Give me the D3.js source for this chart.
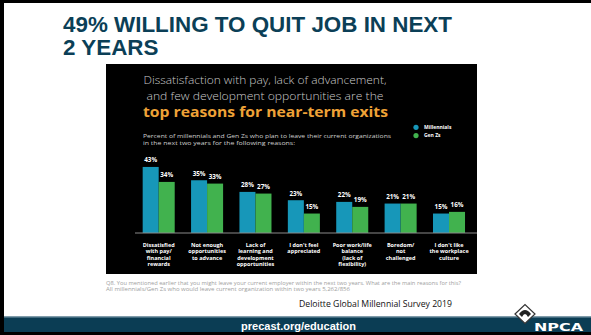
<!DOCTYPE html>
<html>
<head>
<meta charset="utf-8">
<script src="https://cdn.jsdelivr.net/npm/d3@7/dist/d3.min.js"></script>
<style>
  html, body { margin: 0; padding: 0; background: #fff; }
  svg { display: block; }
</style>
</head>
<body>
<script>
// Reasons for leaving, two generations
const categories = [
  ["Dissatisfied", "with pay/", "financial", "rewards"],
  ["Not enough", "opportunities", "to advance"],
  ["Lack of", "learning and", "development", "opportunities"],
  ["I don't feel", "appreciated"],
  ["Poor work/life", "balance", "(lack of", "flexibility)"],
  ["Boredom/", "not", "challenged"],
  ["I don't like", "the workplace", "culture"]
];
const seriesNames = ["Millennials", "Gen Zs"];
const millennials = [43, 35, 28, 23, 22, 21, 15];
const genZs = [34, 33, 27, 15, 19, 21, 16];
const seriesColors = ["#1797b9", "#41b24e"];

const W = 591, H = 335;
const svg = d3.select("body").append("svg").attr("width", W).attr("height", H);

// slide frame
svg.append("rect").attr("x", 0).attr("y", 0).attr("width", W).attr("height", H).attr("fill", "#fff");
svg.append("rect").attr("x", 0).attr("y", 0).attr("width", W).attr("height", 3).attr("fill", "#000");

// slide title
const title = svg.append("g").attr("font-family", "'Liberation Sans', Arial, sans-serif")
  .attr("font-weight", "bold").attr("font-size", 22.4).attr("fill", "#0b3f57");
title.append("text").attr("x", 63).attr("y", 32).text("49% WILLING TO QUIT JOB IN NEXT");
title.append("text").attr("x", 63).attr("y", 55).text("2 YEARS");

// dark panel
svg.append("rect").attr("x", 106).attr("y", 64).attr("width", 371).attr("height", 210).attr("fill", "#000");

const panelFont = "'Open Sans', 'Noto Sans', sans-serif";
const head = svg.append("g").attr("font-family", panelFont).attr("text-anchor", "middle");
head.append("text").attr("x", 265).attr("y", 83.5).attr("font-size", 10.5).attr("font-weight", 300)
  .attr("fill", "#c9c9c9").attr("textLength", 243).attr("lengthAdjust", "spacingAndGlyphs")
  .text("Dissatisfaction with pay, lack of advancement,");
head.append("text").attr("x", 265).attr("y", 99.5).attr("font-size", 10.5).attr("font-weight", 300)
  .attr("fill", "#c9c9c9").attr("textLength", 237).attr("lengthAdjust", "spacingAndGlyphs")
  .text("and few development opportunities are the");
head.append("text").attr("x", 265.5).attr("y", 117).attr("font-size", 15).attr("font-weight", 700)
  .attr("fill", "#eea237").attr("textLength", 245).attr("lengthAdjust", "spacingAndGlyphs")
  .text("top reasons for near-term exits");

const sub = svg.append("g").attr("font-family", panelFont).attr("font-size", 6).attr("fill", "#cfcfcf");
sub.append("text").attr("x", 143).attr("y", 138).attr("textLength", 248).attr("lengthAdjust", "spacingAndGlyphs")
  .text("Percent of millennials and Gen Zs who plan to leave their current organizations");
sub.append("text").attr("x", 143).attr("y", 144.5).attr("textLength", 152).attr("lengthAdjust", "spacingAndGlyphs")
  .text("in the next two years for the following reasons:");

// legend
const legend = svg.append("g").attr("font-family", panelFont).attr("font-size", 5).attr("font-weight", 700).attr("fill", "#fff");
seriesNames.forEach((name, i) => {
  const ly = 127.3 + i * 8.3;
  legend.append("circle").attr("cx", 416).attr("cy", ly).attr("r", 2.6).attr("fill", seriesColors[i]);
  legend.append("text").attr("x", 424).attr("y", ly + 1.8).text(name);
});

// scales
const keys = categories.map(c => c.join(" "));
const x = d3.scaleBand().domain(keys).range([134.5, 473.2]).paddingInner(0.338).paddingOuter(0.169);
const xs = d3.scaleBand().domain(seriesNames).range([0, x.bandwidth()]);
const y = d3.scaleLinear().domain([0, 50]).range([238.5, 155.3]);
const axisY = 233;

const rows = keys.map((k, i) => ({ key: k, lines: categories[i], values: [millennials[i], genZs[i]] }));

const groups = svg.append("g").selectAll("g").data(rows).join("g")
  .attr("transform", d => `translate(${x(d.key)},0)`);

groups.selectAll("rect").data(d => d.values.map((v, j) => ({ s: seriesNames[j], v, j }))).join("rect")
  .attr("x", d => xs(d.s))
  .attr("y", d => y(d.v))
  .attr("width", xs.bandwidth())
  .attr("height", d => axisY - y(d.v))
  .attr("fill", d => seriesColors[d.j]);

groups.selectAll("text.val").data(d => d.values.map((v, j) => ({ s: seriesNames[j], v, j }))).join("text")
  .attr("class", "val")
  .attr("x", d => xs(d.s) + xs.bandwidth() / 2)
  .attr("y", d => y(d.v) - 4.5)
  .attr("text-anchor", "middle")
  .attr("font-family", panelFont).attr("font-size", 6.3).attr("font-weight", 700).attr("fill", "#fff")
  .text(d => d.v + "%");

// baseline
svg.append("line").attr("x1", 135).attr("x2", 477).attr("y1", axisY).attr("y2", axisY)
  .attr("stroke", "#8a8a8a").attr("stroke-width", 1);

// category labels
groups.append("text")
  .attr("text-anchor", "middle")
  .attr("font-family", panelFont).attr("font-size", 5.5).attr("font-weight", 700).attr("fill", "#fff")
  .selectAll("tspan").data(d => d.lines).join("tspan")
  .attr("x", x.bandwidth() / 2)
  .attr("y", (d, i) => 246.5 + i * 6.6)
  .text(d => d);

// question footnote
const note = svg.append("g").attr("font-family", panelFont).attr("font-size", 5).attr("fill", "#a0a0a0");
note.append("text").attr("x", 106).attr("y", 285).attr("textLength", 355).attr("lengthAdjust", "spacingAndGlyphs")
  .text("Q8. You mentioned earlier that you might leave your current employer within the next two years. What are the main reasons for this?");
note.append("text").attr("x", 106).attr("y", 291).attr("textLength", 244).attr("lengthAdjust", "spacingAndGlyphs")
  .text("All millennials/Gen Zs who would leave current organization within two years 5,262/856");

// source
svg.append("text").attr("x", 299).attr("y", 306.5)
  .attr("font-family", "'Open Sans', 'Noto Sans', sans-serif").attr("font-size", 9).attr("fill", "#111")
  .attr("textLength", 153).attr("lengthAdjust", "spacingAndGlyphs")
  .text("Deloitte Global Millennial Survey 2019");

// footer bar
svg.append("rect").attr("x", 0).attr("y", 316.5).attr("width", W).attr("height", 15.5).attr("fill", "#0b3d54");
svg.append("rect").attr("x", 0).attr("y", 316.5).attr("width", W).attr("height", 1).attr("fill", "#7d9cab");
svg.append("rect").attr("x", 0).attr("y", 332).attr("width", W).attr("height", 3).attr("fill", "#000");
svg.append("rect").attr("x", 0).attr("y", 0).attr("width", 4).attr("height", H).attr("fill", "#000");
svg.append("text").attr("x", 298.5).attr("y", 329.5).attr("text-anchor", "middle")
  .attr("font-family", "'Liberation Sans', Arial, sans-serif").attr("font-weight", "bold").attr("font-size", 11)
  .attr("fill", "#fff").text("precast.org/education");

// NPCA mark
const logo = svg.append("g");
logo.append("polygon").attr("points", "515,314 525,304.5 535,314 525,323.5")
  .attr("fill", "#fff").attr("stroke", "#333").attr("stroke-width", 1.2);
logo.append("path").attr("d", "M519,314 Q525,306 531,314 L528,317 Q525,311 522,317 Z").attr("fill", "#222");
logo.append("text").attr("x", 534).attr("y", 331).attr("font-family", "'DejaVu Sans', sans-serif")
  .attr("font-weight", "bold").attr("font-size", 10).attr("fill", "#fff")
  .attr("textLength", 49).attr("lengthAdjust", "spacingAndGlyphs").text("NPCA");
</script>
</body>
</html>
